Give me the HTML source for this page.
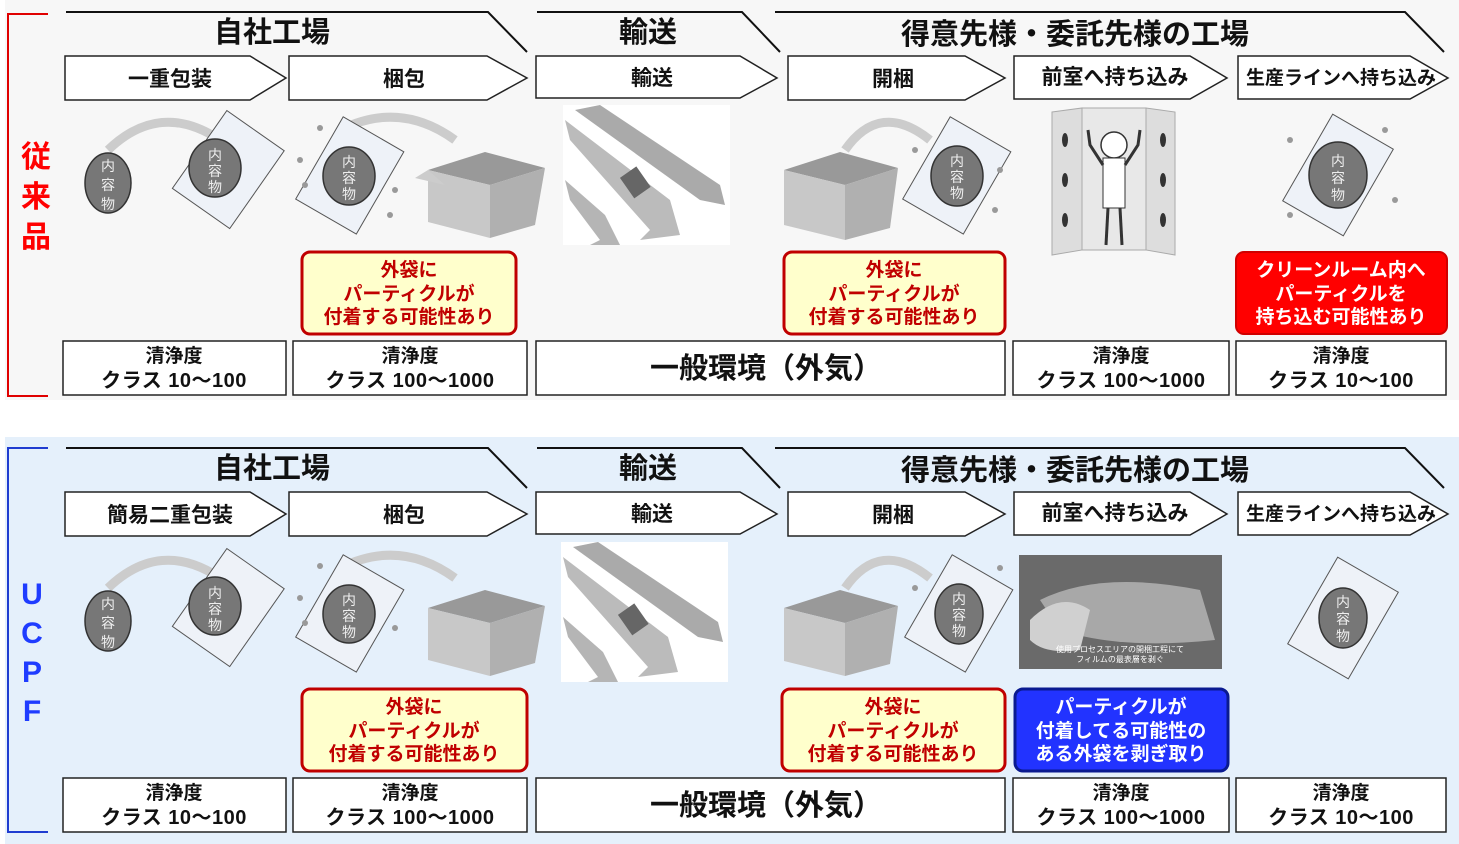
<!DOCTYPE html>
<html><head><meta charset="utf-8"><style>
html,body{margin:0;padding:0;background:#fff;}
svg{display:block;}
text{font-family:"Liberation Sans","Noto Sans CJK JP",sans-serif;font-weight:bold;}
.h{font-size:29px;fill:#111;text-anchor:middle;}
.c{font-size:21px;fill:#111;text-anchor:middle;}
.k{font-size:19px;fill:#111;text-anchor:middle;}
.k2{font-size:20px;fill:#111;text-anchor:middle;letter-spacing:0.5px;}
.r{font-size:19px;fill:#c00000;text-anchor:middle;}
.w{font-size:19px;fill:#fff;text-anchor:middle;}
.n{font-size:14px;fill:#eee;text-anchor:middle;font-weight:normal;}
.e{font-size:29px;fill:#111;text-anchor:middle;}
.box{fill:#fff;stroke:#222;stroke-width:1.5;}
.hdr{fill:none;stroke:#111;stroke-width:2;}
</style></head><body>
<svg width="1459" height="844" viewBox="0 0 1459 844">
<rect x="5" y="0" width="1454" height="400" fill="#f7f7f7"/>
<rect x="5" y="437" width="1454" height="407" fill="#e5f0fb"/>

<!-- ========== TOP PANEL ========== -->
<g>
<polyline points="48,14 8,14 8,396 48,396" fill="none" stroke="#e00000" stroke-width="2"/>
<text x="36" y="167" style="font-size:30px;fill:#ff0000;text-anchor:middle">従</text>
<text x="36" y="207" style="font-size:30px;fill:#ff0000;text-anchor:middle">来</text>
<text x="36" y="247" style="font-size:30px;fill:#ff0000;text-anchor:middle">品</text>

<polyline class="hdr" points="66,12 488,12 527,52"/>
<polyline class="hdr" points="537,12 742,12 780,52"/>
<polyline class="hdr" points="775,12 1405,12 1444,52"/>
<text class="h" x="272" y="42">自社工場</text>
<text class="h" x="648" y="42">輸送</text>
<text class="h" x="1075" y="44">得意先様・委託先様の工場</text>

<polygon class="box" points="65,56 250,56 286,78 250,100 65,100"/>
<polygon class="box" points="289,56 487,56 527,78 487,100 289,100"/>
<polygon class="box" points="536,56 740,56 777,78 740,98 536,98"/>
<polygon class="box" points="788,56 965,56 1005,78 965,100 788,100"/>
<polygon class="box" points="1014,56 1190,56 1227,78 1190,99 1014,99"/>
<polygon class="box" points="1238,56 1410,56 1448,78 1410,99 1238,99"/>
<text class="c" x="170" y="86">一重包装</text>
<text class="c" x="404" y="86">梱包</text>
<text class="c" x="652" y="85">輸送</text>
<text class="c" x="893" y="86">開梱</text>
<text class="c" x="1115" y="84">前室へ持ち込み</text>
<text class="c" x="1341" y="84" style="font-size:19px">生産ラインへ持ち込み</text>

<!-- illustrations -->
<path d="M108,150 Q160,100 220,140" fill="none" stroke="#ccc" stroke-width="9"/>
<ellipse cx="108" cy="183" rx="23" ry="30" fill="#777" stroke="#333" stroke-width="1.5"/>
<text class="n" x="108" y="171">内</text><text class="n" x="108" y="190">容</text><text class="n" x="108" y="209">物</text>
<rect x="193" y="122" width="70" height="95" fill="#eef2f8" stroke="#555" transform="rotate(35 228 170)"/>
<ellipse cx="215" cy="168" rx="26" ry="29" fill="#777" stroke="#333" stroke-width="1.5"/>
<text class="n" x="215" y="160">内</text><text class="n" x="215" y="176">容</text><text class="n" x="215" y="192">物</text>

<path d="M340,130 Q400,100 455,140" fill="none" stroke="#ccc" stroke-width="9"/>
<rect x="315" y="128" width="70" height="95" fill="#eef2f8" stroke="#555" transform="rotate(30 350 175)"/>
<ellipse cx="349" cy="176" rx="26" ry="29" fill="#777" stroke="#333" stroke-width="1.5"/>
<text class="n" x="349" y="167">内</text><text class="n" x="349" y="183">容</text><text class="n" x="349" y="199">物</text>
<circle cx="300" cy="160" r="3" fill="#999"/><circle cx="305" cy="185" r="3" fill="#999"/><circle cx="395" cy="190" r="3" fill="#999"/><circle cx="390" cy="215" r="3" fill="#999"/><circle cx="320" cy="128" r="3" fill="#999"/>
<polygon points="428,170 485,152 545,168 490,185" fill="#999"/>
<polygon points="428,170 490,185 490,238 428,222" fill="#c8c8c8"/>
<polygon points="490,185 545,168 535,225 490,238" fill="#b0b0b0"/>
<polygon points="415,178 428,170 445,185" fill="#ccc"/>

<rect x="563" y="105" width="167" height="140" fill="#fff"/>
<polygon points="575,110 600,105 720,185 725,205 700,200" fill="#aaa"/>
<polygon points="565,120 570,140 650,230 640,240 680,235 670,200" fill="#bbb"/>
<polygon points="565,180 570,200 600,240 590,245 620,245 605,215" fill="#b5b5b5"/>
<rect x="625" y="170" width="20" height="25" fill="#666" transform="rotate(-35 635 182)"/>

<polygon points="784,170 840,152 898,168 845,185" fill="#999"/>
<polygon points="784,170 845,185 845,240 784,225" fill="#c8c8c8"/>
<polygon points="845,185 898,168 890,228 845,240" fill="#b0b0b0"/>
<path d="M845,150 Q880,100 930,140" fill="none" stroke="#ccc" stroke-width="9"/>
<rect x="922" y="128" width="70" height="95" fill="#eef2f8" stroke="#555" transform="rotate(30 957 175)"/>
<ellipse cx="957" cy="176" rx="26" ry="30" fill="#777" stroke="#333" stroke-width="1.5"/>
<text class="n" x="957" y="166">内</text><text class="n" x="957" y="182">容</text><text class="n" x="957" y="198">物</text>
<circle cx="915" cy="150" r="3" fill="#999"/><circle cx="1000" cy="170" r="3" fill="#999"/><circle cx="995" cy="210" r="3" fill="#999"/>

<polygon points="1052,112 1082,108 1082,250 1052,255" fill="#ddd" stroke="#aaa"/>
<rect x="1082" y="108" width="64" height="142" fill="#e8e8e8" stroke="#aaa"/>
<polygon points="1146,108 1175,112 1175,255 1146,250" fill="#ddd" stroke="#aaa"/>
<circle cx="1114" cy="145" r="13" fill="#fff" stroke="#333" stroke-width="1.5"/>
<rect x="1103" y="158" width="22" height="50" fill="#fff" stroke="#333"/>
<line x1="1108" y1="208" x2="1106" y2="245" stroke="#333" stroke-width="3"/><line x1="1120" y1="208" x2="1122" y2="245" stroke="#333" stroke-width="3"/>
<polyline points="1103,165 1090,145 1088,130" fill="none" stroke="#333" stroke-width="3"/><polyline points="1125,165 1138,145 1140,130" fill="none" stroke="#333" stroke-width="3"/>
<ellipse cx="1065" cy="140" rx="3" ry="7" fill="#333"/><ellipse cx="1065" cy="180" rx="3" ry="7" fill="#333"/><ellipse cx="1065" cy="220" rx="3" ry="7" fill="#333"/>
<ellipse cx="1163" cy="140" rx="3" ry="7" fill="#333"/><ellipse cx="1163" cy="180" rx="3" ry="7" fill="#333"/><ellipse cx="1163" cy="220" rx="3" ry="7" fill="#333"/>

<rect x="1303" y="125" width="70" height="100" fill="#eef2f8" stroke="#555" transform="rotate(30 1338 175)"/>
<ellipse cx="1338" cy="175" rx="29" ry="33" fill="#777" stroke="#333" stroke-width="1.5"/>
<text class="n" x="1338" y="166">内</text><text class="n" x="1338" y="183">容</text><text class="n" x="1338" y="200">物</text>
<circle cx="1290" cy="140" r="3" fill="#999"/><circle cx="1385" cy="130" r="3" fill="#999"/><circle cx="1395" cy="200" r="3" fill="#999"/><circle cx="1290" cy="215" r="3" fill="#999"/>

<rect x="302" y="252" width="214" height="82" rx="8" fill="#ffffcc" stroke="#c00000" stroke-width="3"/>
<text class="r" x="409" y="276">外袋に</text><text class="r" x="409" y="300">パーティクルが</text><text class="r" x="409" y="323">付着する可能性あり</text>
<rect x="784" y="252" width="221" height="82" rx="8" fill="#ffffcc" stroke="#c00000" stroke-width="3"/>
<text class="r" x="894" y="276">外袋に</text><text class="r" x="894" y="300">パーティクルが</text><text class="r" x="894" y="323">付着する可能性あり</text>
<rect x="1236" y="252" width="211" height="82" rx="8" fill="#ff0000" stroke="#d00000" stroke-width="2"/>
<text class="w" x="1341" y="276">クリーンルーム内へ</text><text class="w" x="1341" y="300">パーティクルを</text><text class="w" x="1341" y="323">持ち込む可能性あり</text>

<rect class="box" x="63" y="341" width="223" height="54"/>
<rect class="box" x="293" y="341" width="234" height="54"/>
<rect class="box" x="536" y="341" width="469" height="54"/>
<rect class="box" x="1013" y="341" width="216" height="54"/>
<rect class="box" x="1236" y="341" width="210" height="54"/>
<text class="k" x="174" y="362">清浄度</text><text class="k2" x="174" y="387">クラス 10～100</text>
<text class="k" x="410" y="362">清浄度</text><text class="k2" x="410" y="387">クラス 100～1000</text>
<text class="e" x="766" y="378">一般環境（外気）</text>
<text class="k" x="1121" y="362">清浄度</text><text class="k2" x="1121" y="387">クラス 100～1000</text>
<text class="k" x="1341" y="362">清浄度</text><text class="k2" x="1341" y="387">クラス 10～100</text>
</g>

<!-- ========== BOTTOM PANEL ========== -->
<g>
<polyline points="48,448 8,448 8,832 48,832" fill="none" stroke="#1f3cd0" stroke-width="2"/>
<text x="32" y="604" style="font-size:30px;fill:#1f3cff;text-anchor:middle">U</text>
<text x="32" y="643" style="font-size:30px;fill:#1f3cff;text-anchor:middle">C</text>
<text x="32" y="682" style="font-size:30px;fill:#1f3cff;text-anchor:middle">P</text>
<text x="32" y="721" style="font-size:30px;fill:#1f3cff;text-anchor:middle">F</text>

<polyline class="hdr" points="66,448 488,448 527,488"/>
<polyline class="hdr" points="537,448 742,448 780,488"/>
<polyline class="hdr" points="775,448 1405,448 1444,488"/>
<text class="h" x="272" y="478">自社工場</text>
<text class="h" x="648" y="478">輸送</text>
<text class="h" x="1075" y="480">得意先様・委託先様の工場</text>

<polygon class="box" points="65,492 250,492 286,514 250,536 65,536"/>
<polygon class="box" points="289,492 487,492 527,514 487,536 289,536"/>
<polygon class="box" points="536,492 740,492 777,514 740,534 536,534"/>
<polygon class="box" points="788,492 965,492 1005,514 965,536 788,536"/>
<polygon class="box" points="1014,492 1190,492 1227,514 1190,535 1014,535"/>
<polygon class="box" points="1238,492 1410,492 1448,514 1410,535 1238,535"/>
<text class="c" x="170" y="522">簡易二重包装</text>
<text class="c" x="404" y="522">梱包</text>
<text class="c" x="652" y="521">輸送</text>
<text class="c" x="893" y="522">開梱</text>
<text class="c" x="1115" y="520">前室へ持ち込み</text>
<text class="c" x="1341" y="520" style="font-size:19px">生産ラインへ持ち込み</text>

<path d="M108,588 Q160,538 220,578" fill="none" stroke="#ccc" stroke-width="9"/>
<ellipse cx="108" cy="621" rx="23" ry="30" fill="#777" stroke="#333" stroke-width="1.5"/>
<text class="n" x="108" y="609">内</text><text class="n" x="108" y="628">容</text><text class="n" x="108" y="647">物</text>
<rect x="193" y="560" width="70" height="95" fill="#eef2f8" stroke="#555" transform="rotate(35 228 608)"/>
<ellipse cx="215" cy="606" rx="26" ry="29" fill="#777" stroke="#333" stroke-width="1.5"/>
<text class="n" x="215" y="598">内</text><text class="n" x="215" y="614">容</text><text class="n" x="215" y="630">物</text>

<path d="M340,568 Q400,538 455,578" fill="none" stroke="#ccc" stroke-width="9"/>
<rect x="315" y="566" width="70" height="95" fill="#eef2f8" stroke="#555" transform="rotate(30 350 613)"/>
<ellipse cx="349" cy="614" rx="26" ry="29" fill="#777" stroke="#333" stroke-width="1.5"/>
<text class="n" x="349" y="605">内</text><text class="n" x="349" y="621">容</text><text class="n" x="349" y="637">物</text>
<circle cx="300" cy="598" r="3" fill="#999"/><circle cx="305" cy="623" r="3" fill="#999"/><circle cx="395" cy="628" r="3" fill="#999"/><circle cx="320" cy="566" r="3" fill="#999"/>
<polygon points="428,608 485,590 545,606 490,623" fill="#999"/>
<polygon points="428,608 490,623 490,676 428,660" fill="#c8c8c8"/>
<polygon points="490,623 545,606 535,663 490,676" fill="#b0b0b0"/>

<rect x="561" y="542" width="167" height="140" fill="#fff"/>
<polygon points="573,547 598,542 718,622 723,642 698,637" fill="#aaa"/>
<polygon points="563,557 568,577 648,667 638,677 678,672 668,637" fill="#bbb"/>
<polygon points="563,617 568,637 598,677 588,682 618,682 603,652" fill="#b5b5b5"/>
<rect x="623" y="607" width="20" height="25" fill="#666" transform="rotate(-35 633 619)"/>

<polygon points="784,608 840,590 898,606 845,623" fill="#999"/>
<polygon points="784,608 845,623 845,676 784,661" fill="#c8c8c8"/>
<polygon points="845,623 898,606 890,664 845,676" fill="#b0b0b0"/>
<path d="M845,588 Q880,538 930,578" fill="none" stroke="#ccc" stroke-width="9"/>
<rect x="924" y="566" width="70" height="95" fill="#eef2f8" stroke="#555" transform="rotate(30 959 613)"/>
<ellipse cx="959" cy="614" rx="24" ry="30" fill="#777" stroke="#333" stroke-width="1.5"/>
<text class="n" x="959" y="604">内</text><text class="n" x="959" y="620">容</text><text class="n" x="959" y="636">物</text>
<circle cx="915" cy="588" r="3" fill="#999"/><circle cx="1000" cy="568" r="3" fill="#999"/>

<rect x="1019" y="555" width="203" height="114" fill="#6a6a6a"/>
<path d="M1040,600 Q1100,570 1200,590 L1215,640 Q1120,650 1060,630 Z" fill="#a8a8a8"/>
<path d="M1030,620 Q1060,590 1090,610 L1080,650 Q1045,655 1030,640Z" fill="#d0d0d0"/>
<text x="1120" y="652" style="font-size:8px;fill:#fff;text-anchor:middle;font-weight:normal">使用プロセスエリアの開梱工程にて</text>
<text x="1120" y="662" style="font-size:8px;fill:#fff;text-anchor:middle;font-weight:normal">フィルムの最表層を剥ぐ</text>

<rect x="1308" y="568" width="70" height="100" fill="#eef2f8" stroke="#555" transform="rotate(30 1343 618)"/>
<ellipse cx="1343" cy="618" rx="24" ry="30" fill="#777" stroke="#333" stroke-width="1.5"/>
<text class="n" x="1343" y="607">内</text><text class="n" x="1343" y="624">容</text><text class="n" x="1343" y="641">物</text>

<rect x="302" y="689" width="225" height="82" rx="8" fill="#ffffcc" stroke="#c00000" stroke-width="3"/>
<text class="r" x="414" y="713">外袋に</text><text class="r" x="414" y="737">パーティクルが</text><text class="r" x="414" y="760">付着する可能性あり</text>
<rect x="782" y="689" width="223" height="82" rx="8" fill="#ffffcc" stroke="#c00000" stroke-width="3"/>
<text class="r" x="893" y="713">外袋に</text><text class="r" x="893" y="737">パーティクルが</text><text class="r" x="893" y="760">付着する可能性あり</text>
<rect x="1015" y="689" width="213" height="82" rx="8" fill="#2233ff" stroke="#0a1a90" stroke-width="3"/>
<text class="w" x="1121" y="713">パーティクルが</text><text class="w" x="1121" y="737">付着してる可能性の</text><text class="w" x="1121" y="760">ある外袋を剥ぎ取り</text>

<rect class="box" x="63" y="778" width="223" height="54"/>
<rect class="box" x="293" y="778" width="234" height="54"/>
<rect class="box" x="536" y="778" width="469" height="54"/>
<rect class="box" x="1013" y="778" width="216" height="54"/>
<rect class="box" x="1236" y="778" width="210" height="54"/>
<text class="k" x="174" y="799">清浄度</text><text class="k2" x="174" y="824">クラス 10～100</text>
<text class="k" x="410" y="799">清浄度</text><text class="k2" x="410" y="824">クラス 100～1000</text>
<text class="e" x="766" y="815">一般環境（外気）</text>
<text class="k" x="1121" y="799">清浄度</text><text class="k2" x="1121" y="824">クラス 100～1000</text>
<text class="k" x="1341" y="799">清浄度</text><text class="k2" x="1341" y="824">クラス 10～100</text>
</g>
</svg>
</body></html>
